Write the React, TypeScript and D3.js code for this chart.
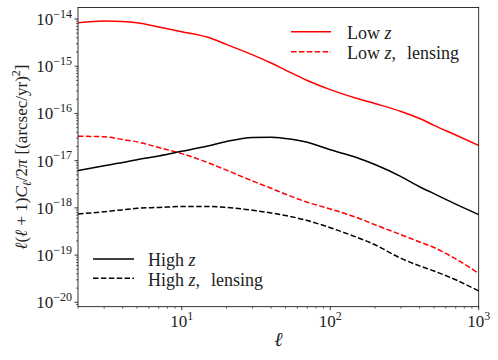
import React from 'react';
import * as d3 from 'd3';

// multipole values shared by all four curves
const ell = [2, 3, 4, 5, 7, 10, 15, 20, 30, 40, 50, 70, 100, 150, 200, 300, 400, 500, 700, 1000];

const lowZ = [8.3e-15, 9.1e-15, 8.9e-15, 8.3e-15, 6.8e-15, 5.4e-15, 4.1e-15, 2.9e-15, 1.74e-15, 1.17e-15,
    8.3e-16, 5.0e-16, 3.2e-16, 2.1e-16, 1.62e-16, 1.1e-16, 7.8e-17, 5.6e-17, 3.5e-17, 2.1e-17];
const lowZLensing = [3.3e-17, 3.2e-17, 2.8e-17, 2.5e-17, 1.9e-17, 1.41e-17, 9.1e-18, 6.3e-18, 3.7e-18, 2.6e-18,
    1.95e-18, 1.32e-18, 9.5e-19, 6.3e-19, 4.4e-19, 2.7e-19, 1.9e-19, 1.45e-19, 8.3e-20, 4.1e-20];
const highZ = [6.2e-18, 7.8e-18, 9.1e-18, 1.05e-17, 1.26e-17, 1.58e-17, 2.05e-17, 2.55e-17, 3.1e-17, 3.15e-17,
    2.95e-17, 2.45e-17, 1.7e-17, 1.17e-17, 8.3e-18, 4.6e-18, 2.8e-18, 2.0e-18, 1.2e-18, 7.2e-19];
const highZLensing = [7.4e-19, 8.3e-19, 9.1e-19, 9.8e-19, 1.02e-18, 1.07e-18, 1.07e-18, 1.02e-18, 8.9e-19, 7.8e-19,
    6.9e-19, 5.4e-19, 3.8e-19, 2.4e-19, 1.66e-19, 8.5e-20, 5.9e-20, 4.6e-20, 3.0e-20, 1.74e-20];

const xTickExps = [1, 2, 3];
const yTickExps = [-20, -19, -18, -17, -16, -15, -14];

const W = 498;
const H = 360;
const font = '"Liberation Serif", serif';
const ink = '#222';

const x = d3.scaleLog().domain([2, 1000]).range([78, 478.7]);
const y = d3.scaleLog().domain([Math.pow(10, -20.093), Math.pow(10, -13.756)]).range([306.7, 7.5]);

const line = d3.line<[number, number]>()
    .x(d => x(d[0]))
    .y(d => y(d[1]))
    .curve(d3.curveMonotoneX);

const pts = (vals: number[]) => ell.map((l, i) => [l, vals[i]] as [number, number]);

const series = [
    { vals: lowZ, color: '#ff0000', dash: undefined },
    { vals: lowZLensing, color: '#ff0000', dash: '5.5 2.4' },
    { vals: highZ, color: '#000000', dash: undefined },
    { vals: highZLensing, color: '#000000', dash: '5.5 2.4' },
];

function minorTicks(scale: d3.ScaleLogarithmic<number, number>, lo: number, hi: number) {
    const [d0, d1] = scale.domain();
    const out: number[] = [];
    for (let e = lo; e <= hi; e++) {
        for (let m = 2; m <= 9; m++) {
            const v = m * Math.pow(10, e);
            if (v >= d0 && v <= d1) out.push(v);
        }
    }
    return out;
}

const App = () => {
    const [x0, x1] = x.range();
    const [y0, y1] = y.range();
    const xMinor = minorTicks(x, 0, 3);
    const yMinor = minorTicks(y, -21, -14);

    return (
        <svg width={W} height={H} viewBox={`0 0 ${W} ${H}`}
            style={{ position: 'absolute', left: 0, top: 0, background: '#fff' }}
            fontFamily={font}>
            <defs>
                <clipPath id="plot">
                    <rect x={x0} y={y1} width={x1 - x0} height={y0 - y1} />
                </clipPath>
            </defs>

            {/* curves */}
            <g clipPath="url(#plot)">
                {series.map((s, i) => (
                    <path key={i} d={line(pts(s.vals)) || ''} fill="none" stroke={s.color}
                        strokeWidth={1.5} strokeDasharray={s.dash} />
                ))}
            </g>

            {/* frame */}
            <rect x={x0} y={y1} width={x1 - x0} height={y0 - y1} fill="none" stroke="#000" strokeWidth={0.8} />

            {/* x ticks */}
            {xMinor.map((v, i) => (
                <line key={'xm' + i} x1={x(v)} x2={x(v)} y1={y0} y2={y0 + 2} stroke="#000" strokeWidth={0.6} />
            ))}
            {xTickExps.map(e => (
                <g key={'x' + e}>
                    <line x1={x(Math.pow(10, e))} x2={x(Math.pow(10, e))} y1={y0} y2={y0 + 3.5} stroke="#000" strokeWidth={0.8} />
                    <text x={x(Math.pow(10, e))} y={y0 + 20.5} textAnchor="middle" fontSize={17} fill={ink}>
                        <tspan>10</tspan><tspan dy={-7} fontSize={12}>{e}</tspan>
                    </text>
                </g>
            ))}

            {/* y ticks */}
            {yMinor.map((v, i) => (
                <line key={'ym' + i} x1={x0 - 2} x2={x0} y1={y(v)} y2={y(v)} stroke="#000" strokeWidth={0.6} />
            ))}
            {yTickExps.map(e => (
                <g key={'y' + e}>
                    <line x1={x0 - 3.5} x2={x0} y1={y(Math.pow(10, e))} y2={y(Math.pow(10, e))} stroke="#000" strokeWidth={0.8} />
                    <text x={x0 - 6} y={y(Math.pow(10, e)) + 6} textAnchor="end" fontSize={17} fill={ink}>
                        <tspan>10</tspan><tspan dy={-7.5} fontSize={12}>{'\u2212' + Math.abs(e)}</tspan>
                    </text>
                </g>
            ))}

            {/* axis labels */}
            <text x={(x0 + x1) / 2} y={346} textAnchor="middle" fontSize={20} fontStyle="italic" fill={ink}>ℓ</text>
            <text transform={`translate(27,${(y0 + y1) / 2}) rotate(-90)`} textAnchor="middle" fontSize={17} fill={ink}>
                <tspan fontStyle="italic">ℓ</tspan>(<tspan fontStyle="italic">ℓ</tspan> + 1)<tspan fontStyle="italic">C</tspan>
                <tspan dy={4} fontSize={12} fontStyle="italic">ℓ</tspan><tspan dy={-4}>/2</tspan><tspan fontStyle="italic">π</tspan>
                <tspan dx={5}>[(arcsec/yr)</tspan><tspan dy={-7} fontSize={12}>2</tspan><tspan dy={7}>]</tspan>
            </text>

            {/* legend upper right */}
            <g fontSize={18} fill={ink}>
                <line x1={291} x2={331} y1={31.7} y2={31.7} stroke="#ff0000" strokeWidth={1.5} />
                <line x1={291} x2={331} y1={51.7} y2={51.7} stroke="#ff0000" strokeWidth={1.5} strokeDasharray="5.5 2.4" />
                <text x={347} y={38.5}>Low <tspan fontStyle="italic">z</tspan></text>
                <text x={347} y={58.5}>Low <tspan fontStyle="italic">z</tspan>,<tspan dx={11}>lensing</tspan></text>
            </g>

            {/* legend lower left */}
            <g fontSize={18} fill={ink}>
                <line x1={93} x2={134} y1={259} y2={259} stroke="#000" strokeWidth={1.5} />
                <line x1={93} x2={134} y1={278.3} y2={278.3} stroke="#000" strokeWidth={1.5} strokeDasharray="5.5 2.4" />
                <text x={148} y={265.5}>High <tspan fontStyle="italic">z</tspan></text>
                <text x={148} y={285.5}>High <tspan fontStyle="italic">z</tspan>,<tspan dx={11}>lensing</tspan></text>
            </g>
        </svg>
    );
};

export default App;
